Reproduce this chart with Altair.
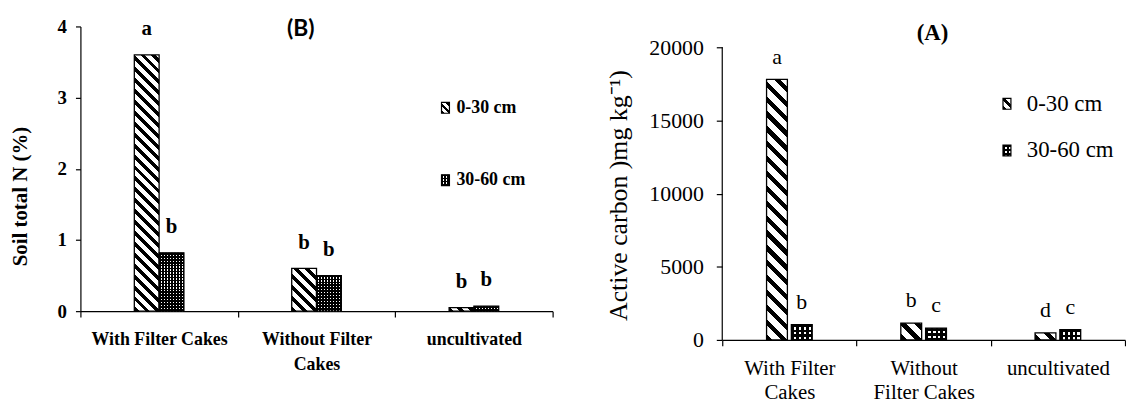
import altair as alt
import pandas as pd

SERIF = "Liberation Serif"

categories = ["With Filter Cakes", "Without Filter Cakes", "uncultivated"]
depths = ["0-30 cm", "30-60 cm"]

# Panel (B): soil total N (%)
n_0_30 = [3.6, 0.6, 0.05]
n_30_60 = [0.82, 0.5, 0.07]
n_letters_0_30 = ["a", "b", "b"]
n_letters_30_60 = ["b", "b", "b"]
n_ticks = [0, 1, 2, 3, 4]
n_xlabels = [["With Filter Cakes"], ["Without Filter", "Cakes"], ["uncultivated"]]

# Panel (A): active carbon (mg kg-1)
c_0_30 = [17800, 1150, 480]
c_30_60 = [1050, 800, 700]
c_letters_0_30 = ["a", "b", "d"]
c_letters_30_60 = ["b", "c", "c"]
c_ticks = [0, 5000, 10000, 15000, 20000]
c_xlabels = [["With Filter", "Cakes"], ["Without", "Filter Cakes"], ["uncultivated"]]


def r5(v):
    return round(float(v), 5)


def hatch_gradient(w, h, period, black_frac, slope=1.0):
    """Diagonal '\\' stripes emulated with a hard-stop linear gradient."""
    h = max(h, 0.5)
    U = slope * w + h
    k = U / ((slope * w) ** 2 + h ** 2)
    stops = []
    i = 0
    while i * period < U:
        a = i * period / U
        b = min((i + black_frac) * period / U, 1.0)
        c = min((i + 1) * period / U, 1.0)
        stops.append({"offset": r5(a), "color": "#000000"})
        stops.append({"offset": r5(b), "color": "#000000"})
        if b < 1.0:
            stops.append({"offset": r5(b), "color": "#ffffff"})
            stops.append({"offset": r5(c), "color": "#ffffff"})
        i += 1
    return {"gradient": "linear", "x1": 0, "y1": 1,
            "x2": r5(k * slope * w), "y2": r5(1 - k * h), "stops": stops}


def stripe_gradient(length, period, black_frac, along_x, gap_color):
    length = max(length, 0.5)
    stops = []
    i = 0
    while i * period < length:
        a = i * period / length
        b = min((i + black_frac) * period / length, 1.0)
        c = min((i + 1) * period / length, 1.0)
        stops.append({"offset": r5(a), "color": "#000000"})
        stops.append({"offset": r5(b), "color": "#000000"})
        if b < 1.0:
            stops.append({"offset": r5(b), "color": gap_color})
            stops.append({"offset": r5(c), "color": gap_color})
        i += 1
    return {"gradient": "linear", "x1": 0, "y1": 0,
            "x2": 1 if along_x else 0, "y2": 0 if along_x else 1, "stops": stops}


def label_expr(lines):
    expr = "datum.label"
    for c, ls in zip(categories, lines):
        if len(ls) > 1:
            arr = "[" + ",".join("'" + s + "'" for s in ls) + "]"
            expr = "datum.value === '" + c + "' ? " + arr + " : (" + expr + ")"
    return expr


def make_panel(p):
    df = pd.DataFrame({
        "cat": categories * 2,
        "depth": [depths[0]] * 3 + [depths[1]] * 3,
        "value": p["a"] + p["b"],
        "letter": p["la"] + p["lb"],
    })
    ppu = p["height"] / p["ydomain"]
    fw = p["fw"]

    X = alt.X("cat:N", sort=categories,
              scale=alt.Scale(paddingInner=0, paddingOuter=0),
              axis=alt.Axis(title=None, labelAngle=0, tickBand="extent",
                            tickSize=6, tickColor="black", domainColor="black",
                            domainWidth=1.2, tickWidth=1.2,
                            labelColor="black", labelFont=SERIF,
                            labelFontSize=p["xfs"], labelFontWeight=fw,
                            labelPadding=p["xpad"], labelLineHeight=p["xlh"],
                            labelExpr=label_expr(p["xlabels"]),
                            labelLimit=400, labelOverlap=False))
    yaxis = dict(values=p["ticks"], format="d", grid=False,
                 tickSize=p["ytick"], tickColor="black", tickWidth=1.2,
                 domainColor="black", domainWidth=1.2,
                 labelColor="black", labelFont=SERIF,
                 labelFontSize=p["yfs"], labelFontWeight=fw,
                 labelPadding=p["ypad"],
                 title=p["ytitle"], titleFont=SERIF, titleFontSize=p["tfs"],
                 titleFontWeight=fw, titleColor="black", titleAngle=270,
                 titleX=p["tx"], titleY=p["ty"], titleAlign="center",
                 titleBaseline="middle")
    if not p["domain"]:
        yaxis["domain"] = False
    Y = alt.Y("value:Q",
              scale=alt.Scale(domain=[0, p["ydomain"]], nice=False, zero=True),
              axis=alt.Axis(**yaxis))

    layers = []
    if not p["domain"]:
        rule_df = pd.DataFrame({"value": [0], "top": [p["ticks"][-1]]})
        layers.append(alt.Chart(rule_df).mark_rule(color="black", strokeWidth=1.2)
                      .encode(x=alt.value(0), y=Y, y2="top:Q"))

    for j, depth in enumerate(depths):
        vals = p["a"] if j == 0 else p["b"]
        off = -p["off"] if j == 0 else p["off"]
        for c, v in zip(categories, vals):
            h = v * ppu
            base = alt.Chart(df).transform_filter(
                (alt.datum.cat == c) & (alt.datum.depth == depth))
            if j == 0:
                fills = [hatch_gradient(p["bw"], h, p["hp"], p["hf"])]
            else:
                fills = [stripe_gradient(p["bw"], p["dp"], p["df"], True, "#ffffff"),
                         stripe_gradient(h, p["dp"], p["df"], False, "rgba(255,255,255,0)")]
            for i, g in enumerate(fills):
                if i == len(fills) - 1:
                    mk = base.mark_bar(size=p["bw"], xOffset=off, fill=g,
                                       stroke="black", strokeWidth=1.3)
                else:
                    mk = base.mark_bar(size=p["bw"], xOffset=off, fill=g, strokeWidth=0)
                layers.append(mk.encode(x=X, y=Y))

    for j, depth in enumerate(depths):
        off = -p["off"] if j == 0 else p["off"]
        layers.append(
            alt.Chart(df).transform_filter(alt.datum.depth == depth)
            .mark_text(dx=off, dy=-p["ldy"], baseline="alphabetic", align="center",
                       font=SERIF, fontSize=p["lfs"], fontWeight=fw, color="black")
            .encode(x=X, y=Y, text="letter:N"))

    # legend
    one = pd.DataFrame({"k": [0]})
    sw, sh = p["leg_w"], p["leg_h"]
    for k, depth in enumerate(depths):
        x0, yc = p["leg_x"], p["leg_y"][k]
        if k == 0:
            fills = [hatch_gradient(sw, sh, p["leg_hp"], 0.45)]
        else:
            fills = [stripe_gradient(sw, p["leg_dp"], 0.55, True, "#ffffff"),
                     stripe_gradient(sh, p["leg_dp"], 0.55, False, "rgba(255,255,255,0)")]
        for i, g in enumerate(fills):
            if i == len(fills) - 1:
                mk = alt.Chart(one).mark_rect(fill=g, stroke="black", strokeWidth=1.2)
            else:
                mk = alt.Chart(one).mark_rect(fill=g, strokeWidth=0)
            layers.append(mk.encode(x=alt.value(x0), x2=alt.value(x0 + sw),
                                    y=alt.value(yc - sh / 2), y2=alt.value(yc + sh / 2)))
        layers.append(
            alt.Chart(pd.DataFrame({"t": [depth]}))
            .mark_text(align="left", baseline="middle", font=SERIF,
                       fontSize=p["legfs"], fontWeight=fw, color="black")
            .encode(x=alt.value(x0 + sw + p["leg_gap"]), y=alt.value(yc), text="t:N"))

    layers.append(
        alt.Chart(pd.DataFrame({"t": [p["plabel"]]}))
        .mark_text(align="center", baseline="middle", font=p["pfont"],
                   fontSize=p["pfs"], fontWeight="bold", color="black")
        .encode(x=alt.value(p["px"]), y=alt.value(p["py"]), text="t:N"))

    return alt.layer(*layers).properties(width=p["width"], height=p["height"])


left = make_panel(dict(
    a=n_0_30, b=n_30_60, la=n_letters_0_30, lb=n_letters_30_60, ticks=n_ticks,
    xlabels=n_xlabels, ydomain=4.0, width=476, height=287, fw="bold",
    xfs=18, xpad=14, xlh=25, ytick=5, yfs=19, ypad=9,
    ytitle="Soil total N (%)", tfs=21, tx=-60.5, ty=171, domain=True,
    bw=25, off=12.5, hp=11, hf=0.45, dp=3, df=0.6,
    ldy=20, lfs=21,
    leg_x=364, leg_y=[82, 155], leg_w=8, leg_h=11, leg_hp=7, leg_dp=3,
    legfs=18, leg_gap=7,
    plabel="(B)", pfont="Lato", pfs=23, px=222, py=3,
))

right = make_panel(dict(
    a=c_0_30, b=c_30_60, la=c_letters_0_30, lb=c_letters_30_60, ticks=c_ticks,
    xlabels=c_xlabels, ydomain=20000 * 316 / 295, width=406, height=316, fw="normal",
    xfs=21, xpad=12, xlh=24, ytick=6, yfs=22, ypad=13,
    ytitle="Active carbon )mg kg\u207b\u00b9)", tfs=26, tx=-105, ty=170, domain=False,
    bw=21, off=12.5, hp=15, hf=0.42, dp=5, df=0.55,
    ldy=16, lfs=22,
    leg_x=283, leg_y=[78, 125], leg_w=8, leg_h=11, leg_hp=9, leg_dp=4,
    legfs=23, leg_gap=16,
    plabel="(A)", pfont=SERIF, pfs=23, px=212, py=7,
))

chart = (
    alt.hconcat(left, right, spacing=171, bounds="flush")
    .properties(padding={"left": 1, "top": 8, "right": 0, "bottom": 0})
    .configure_view(stroke=None)
)

chart.save("out.html", embed_options={"renderer": "svg", "actions": False})
